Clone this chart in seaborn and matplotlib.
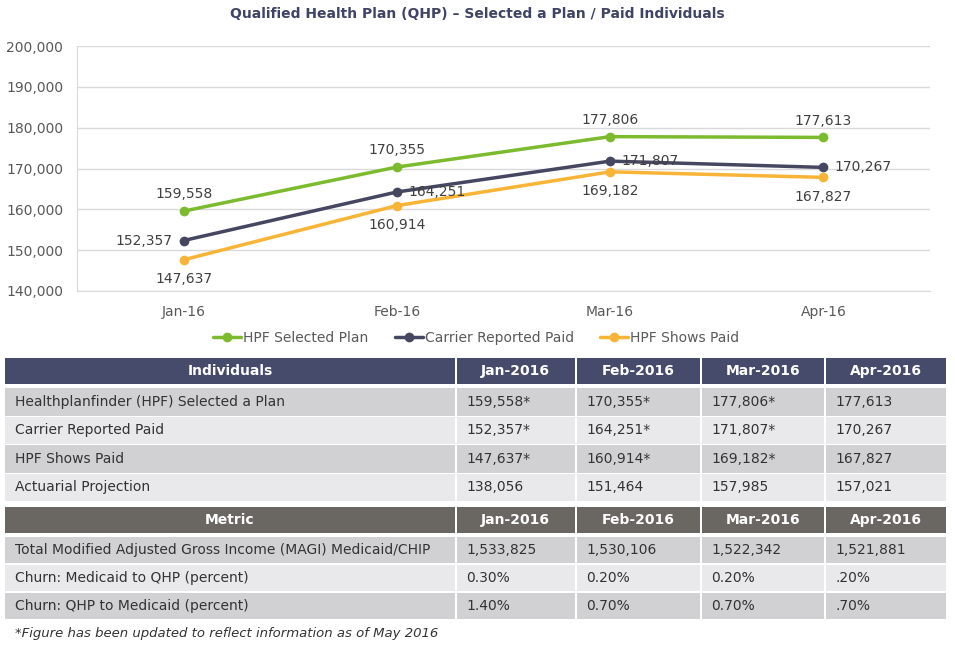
import numpy as np
import pandas as pd
import seaborn as sns
import matplotlib.pyplot as plt
from matplotlib.patches import Rectangle
from matplotlib.ticker import FuncFormatter

# chart data
months = ["Jan-16", "Feb-16", "Mar-16", "Apr-16"]
selected_plan = [159558, 170355, 177806, 177613]
carrier_paid = [152357, 164251, 171807, 170267]
shows_paid = [147637, 160914, 169182, 167827]
series_names = ["HPF Selected Plan", "Carrier Reported Paid", "HPF Shows Paid"]

# table data
table_months = ["Jan-2016", "Feb-2016", "Mar-2016", "Apr-2016"]
indiv_rows = ["Healthplanfinder (HPF) Selected a Plan", "Carrier Reported Paid",
              "HPF Shows Paid", "Actuarial Projection"]
indiv_vals = [
    ["159,558*", "170,355*", "177,806*", "177,613"],
    ["152,357*", "164,251*", "171,807*", "170,267"],
    ["147,637*", "160,914*", "169,182*", "167,827"],
    ["138,056", "151,464", "157,985", "157,021"],
]
metric_rows = ["Total Modified Adjusted Gross Income (MAGI) Medicaid/CHIP",
               "Churn: Medicaid to QHP (percent)", "Churn: QHP to Medicaid (percent)"]
metric_vals = [
    ["1,533,825", "1,530,106", "1,522,342", "1,521,881"],
    ["0.30%", "0.20%", "0.20%", ".20%"],
    ["1.40%", "0.70%", "0.70%", ".70%"],
]
footnote = "*Figure has been updated to reflect information as of May 2016"

colors = ["#7CBB2E", "#44475F", "#F8B436"]
text_col = "#404040"

df = pd.DataFrame({"month": months * 3,
                   "value": selected_plan + carrier_paid + shows_paid,
                   "series": np.repeat(series_names, len(months))})

sns.set_style("white")
plt.rcParams["font.family"] = ["DejaVu Sans"]

fig = plt.figure(figsize=(9.55, 6.45), dpi=100)
W, H = 955, 645
ax = fig.add_axes([77 / W, 1 - 291 / H, (930 - 77) / W, (291 - 46) / H])

sns.lineplot(data=df, x="month", y="value", hue="series", palette=colors,
             marker="o", markersize=7, markeredgewidth=0, linewidth=2.5,
             sort=False, ax=ax)

ax.set_xlim(-0.5, 3.5)
ax.set_ylim(140000, 200000)
ax.set_yticks(range(140000, 200001, 10000))
ax.yaxis.set_major_formatter(FuncFormatter(lambda v, p: f"{int(v):,}"))
ax.grid(axis="y", color="#D9D9D9", linewidth=1)
ax.set_axisbelow(True)
for s in ["top", "right"]:
    ax.spines[s].set_visible(False)
ax.spines["left"].set_color("#D9D9D9")
ax.spines["bottom"].set_color("#D9D9D9")
ax.tick_params(axis="both", length=0, labelsize=10, labelcolor="#595959")
ax.tick_params(axis="x", pad=10)
ax.tick_params(axis="y", pad=10)
ax.set_xlabel("")
ax.set_ylabel("")

# data labels
offsets = {
    "HPF Selected Plan": [(0, 12, "center")] * 4,
    "Carrier Reported Paid": [(-8, 0, "right"), (8, 0, "left"), (8, 0, "left"), (8, 0, "left")],
    "HPF Shows Paid": [(0, -14, "center")] * 4,
}
for name, vals in zip(series_names, [selected_plan, carrier_paid, shows_paid]):
    for i, v in enumerate(vals):
        dx, dy, ha = offsets[name][i]
        ax.annotate(f"{v:,}", (i, v), xytext=(dx, dy), textcoords="offset points",
                    ha=ha, va="center", fontsize=10, color=text_col)

leg = ax.legend(loc="center", bbox_to_anchor=(0.468, (291 - 338) / (291 - 46)),
                ncol=3, frameon=False, fontsize=10, handlelength=2.0,
                columnspacing=1.9, handletextpad=0.15)
for t in leg.get_texts():
    t.set_color("#595959")

fig.text(477 / W, 1 - 14 / H, "Qualified Health Plan (QHP) \u2013 Selected a Plan / Paid Individuals",
         ha="center", va="center", fontsize=10, fontweight="bold", color="#3F4466")

# table
tax = fig.add_axes([0, 0, 1, 1])
tax.set_xlim(0, W)
tax.set_ylim(H, 0)
tax.axis("off")

col_edges = [(5, 455), (456.5, 575), (576.5, 700), (701.5, 824), (825.5, 946)]
dark_row, light_row = "#D1D1D3", "#E9E9EB"


def draw_block(top, head_h, row_tops, row_h, header_color, header_label, labels, values):
    for c, (x0, x1) in enumerate(col_edges):
        tax.add_patch(Rectangle((x0, top), x1 - x0, head_h, color=header_color, lw=0))
        label = header_label if c == 0 else table_months[c - 1]
        tax.text((x0 + x1) / 2, top + head_h / 2, label, ha="center", va="center",
                 color="white", fontsize=10, fontweight="bold")
    for r, rt in enumerate(row_tops):
        fill = dark_row if r % 2 == 0 else light_row
        cells = [labels[r]] + values[r]
        for c, (x0, x1) in enumerate(col_edges):
            tax.add_patch(Rectangle((x0, rt), x1 - x0, row_h, color=fill, lw=0))
            tax.text(x0 + 10, rt + row_h / 2, cells[c], ha="left", va="center",
                     color="#333333", fontsize=10)


draw_block(358, 26, [388, 416.5, 445, 473.5], 27.5, "#464A6B", "Individuals",
           indiv_rows, indiv_vals)
draw_block(507, 26, [536.5, 564.5, 592.5], 26.5, "#6A6662", "Metric",
           metric_rows, metric_vals)

fig.text(15 / W, 1 - 633 / H, footnote, ha="left", va="center", fontsize=9.5,
         style="italic", color="#333333")

fig.savefig("out.png", dpi=100)
